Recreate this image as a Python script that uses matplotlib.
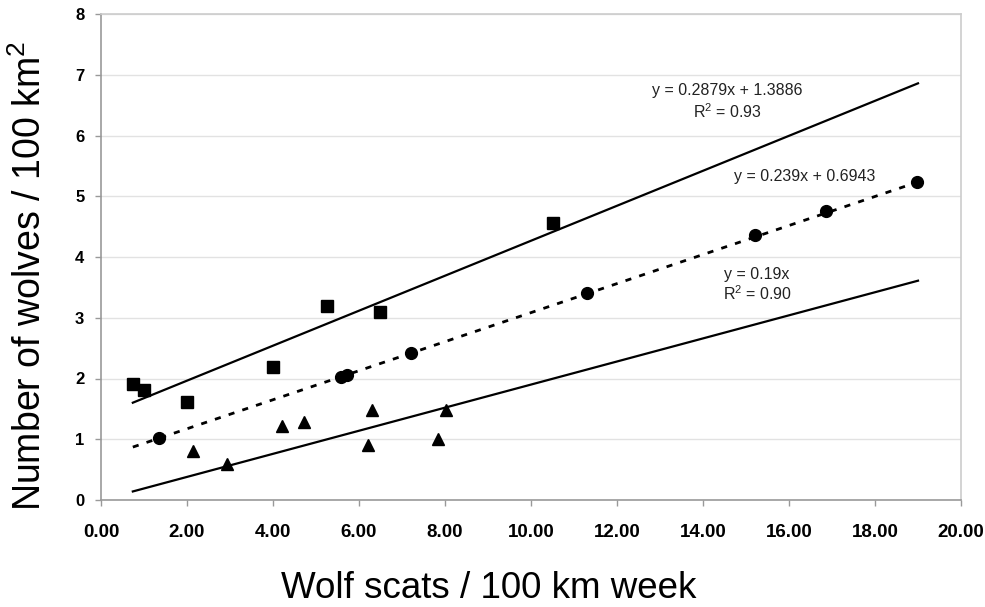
import matplotlib
matplotlib.use("Agg")
import matplotlib.pyplot as plt
import numpy as np

plt.rcParams['font.family'] = ['Liberation Sans', 'DejaVu Sans']
plt.rcParams['mathtext.fontset'] = 'custom'
plt.rcParams['mathtext.rm'] = 'Liberation Sans'
plt.rcParams['mathtext.it'] = 'Liberation Sans:italic'

# data
sq_x = [0.74, 1.00, 2.00, 3.99, 5.25, 6.49, 10.50]
sq_y = [1.91, 1.81, 1.62, 2.19, 3.19, 3.10, 4.56]

circ_x = [1.36, 5.58, 5.72, 7.22, 11.30, 15.22, 16.87, 18.97]
circ_y = [1.02, 2.03, 2.05, 2.42, 3.41, 4.36, 4.75, 5.23]

tri_x = [2.13, 2.92, 4.22, 4.71, 6.22, 6.31, 7.83, 8.02]
tri_y = [0.80, 0.60, 1.21, 1.29, 0.91, 1.48, 1.00, 1.48]

# trend lines (slope, intercept) as printed on the chart
fit_sq = (0.2879, 1.3886)
fit_circ = (0.239, 0.6943)
fit_tri = (0.19, 0.0)
fit_x = [0.74, 19.0]

x_ticks = np.arange(0, 21, 2)
y_ticks = np.arange(0, 9, 1)

fig = plt.figure(figsize=(9.85, 6.07), dpi=100)
ax = fig.add_axes([101/985, 107/607, 860/985, 486/607])

xs = np.array(fit_x)
ax.plot(xs, fit_sq[0]*xs + fit_sq[1], color='black', lw=1.6, zorder=2)
ax.plot(xs, fit_circ[0]*xs + fit_circ[1], color='black', lw=2.0,
        linestyle=(0, (2.2, 3.0)), zorder=2)
ax.plot(xs, fit_tri[0]*xs + fit_tri[1], color='black', lw=1.6, zorder=2)

ax.plot(sq_x, sq_y, 's', color='black', ms=8, zorder=3)
ax.plot(circ_x, circ_y, 'o', color='black', ms=8.5, zorder=3)
ax.plot(tri_x, tri_y, '^', color='black', ms=9, zorder=3)

ax.text(14.56, 6.55, 'y = 0.2879x + 1.3886\nR$^2$ = 0.93', ha='center', va='center',
        fontsize=11.5, color='#222222', linespacing=1.3)
ax.text(16.37, 5.33, 'y = 0.239x + 0.6943', ha='center', va='center',
        fontsize=11.5, color='#222222')
ax.text(15.26, 3.54, 'y = 0.19x\nR$^2$ = 0.90', ha='center', va='center',
        fontsize=11.5, color='#222222', linespacing=1.2)

ax.set_xlim(0, 20)
ax.set_ylim(0, 8)
ax.set_xticks(x_ticks)
ax.set_xticklabels([f"{v:.2f}" for v in x_ticks], fontsize=13.5, fontweight='bold')
ax.set_yticks(y_ticks)
ax.set_yticklabels([str(v) for v in y_ticks], fontsize=12, fontweight='bold')
ax.tick_params(axis='x', direction='out', length=4, width=1, color='#999999', pad=13)
ax.tick_params(axis='y', direction='out', length=4, width=1, color='#999999', pad=8)

ax.grid(axis='y', color='#e2e2e2', lw=1)
ax.set_axisbelow(True)
for side in ['left', 'bottom']:
    ax.spines[side].set_color('#999999')
    ax.spines[side].set_linewidth(1.2)
for side in ['top', 'right']:
    ax.spines[side].set_color('#cccccc')
    ax.spines[side].set_linewidth(1.2)

fig.text(488.5/985, 9/607, 'Wolf scats / 100 km week', ha='center', va='baseline',
         fontsize=26.5)
fig.text(30/985, 1 - 276/607, 'Number of wolves / 100 km$^2$', ha='center', va='center',
         rotation=90, fontsize=27)

fig.savefig('out.png', dpi=100)
